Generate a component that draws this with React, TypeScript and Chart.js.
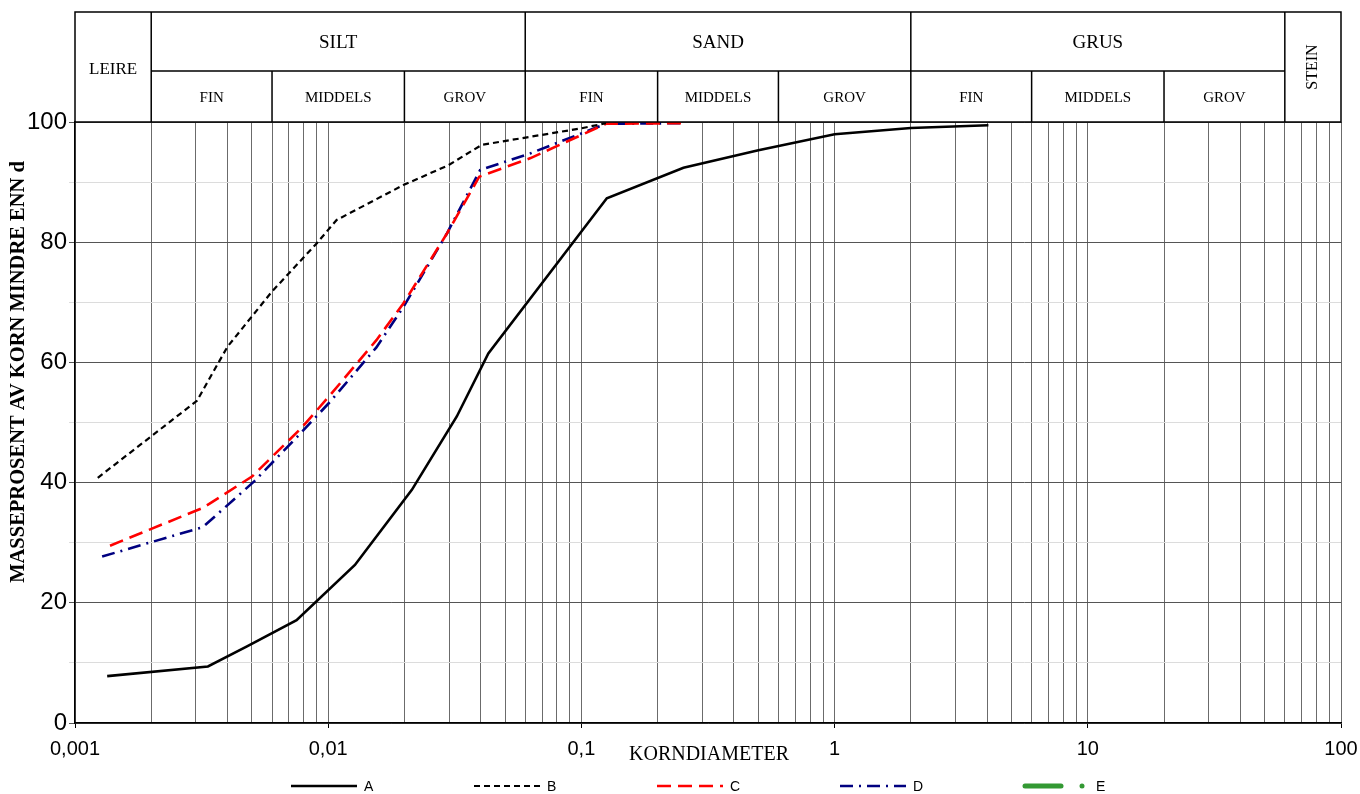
import React, { useEffect, useRef } from 'react';
import { Chart, registerables } from 'chart.js';

Chart.register(...registerables);

// ---- data (grain diameter in mm, percent passing) ----
const diamA = [0.00134, 0.00335, 0.0048, 0.0075, 0.01275, 0.0214, 0.0322, 0.0429, 0.126, 0.253, 0.5, 1.0, 2.0, 4.05];
const passA = [7.8, 9.4, 12.8, 17.1, 26.3, 38.8, 51.0, 61.5, 87.3, 92.4, 95.3, 97.95, 99.0, 99.45];

const diamB = [0.00123, 0.00303, 0.004, 0.006, 0.009, 0.0108, 0.0198, 0.0298, 0.0404, 0.1, 0.125];
const passB = [40.8, 53.6, 62.6, 71.8, 79.8, 83.7, 89.5, 92.8, 96.2, 98.95, 99.8];

const diamC = [0.001375, 0.0032, 0.005, 0.0078, 0.0102, 0.0155, 0.0198, 0.0294, 0.0395, 0.063, 0.125, 0.25];
const passC = [29.5, 35.8, 41.0, 49.0, 54.6, 63.7, 69.8, 81.4, 90.9, 94.0, 99.7, 99.8];

const diamD = [0.00128, 0.0032, 0.0051, 0.0079, 0.0102, 0.0155, 0.0198, 0.0294, 0.0398, 0.063, 0.125, 0.25];
const passD = [27.7, 32.6, 40.2, 48.5, 53.5, 62.5, 69.2, 81.4, 92.0, 94.8, 99.7, 99.8];

const diamE: number[] = [];
const passE: number[] = [];

const seriesNames = ['A', 'B', 'C', 'D', 'E'];

// ---- axis ticks ----
const xDecades = [0.001, 0.01, 0.1, 1, 10, 100];
const xDecadeLabels = ['0,001', '0,01', '0,1', '1', '10', '100'];
const xMultipliers = [1, 2, 3, 4, 5, 6, 7, 8, 9];
const yLabelStep = 20;

// ---- header classes ----
const classNames = ['LEIRE', 'SILT', 'SAND', 'GRUS', 'STEIN'];
const classBounds = [0.001, 0.002, 0.06, 2, 60, 100];
const subNames = ['FIN', 'MIDDELS', 'GROV'];
const subBounds = [
  [0.002, 0.006, 0.02, 0.06],
  [0.06, 0.2, 0.6, 2],
  [2, 6, 20, 60],
];

const xTitle = 'KORNDIAMETER';
const yTitle = 'MASSEPROSENT AV KORN MINDRE ENN d';

const toPoints = (xs: number[], ys: number[]) => xs.map((x, i) => ({ x, y: ys[i] }));
const isDecade = (v: number) => xDecades.some((d) => Math.abs(d - v) / d < 1e-6);

export default function App() {
  const ref = useRef<HTMLCanvasElement>(null);

  useEffect(() => {
    const serif = '"Liberation Serif", "Times New Roman", serif';
    const sans = '"Liberation Sans", Arial, sans-serif';

    const xTickValues: number[] = [];
    xDecades.slice(0, -1).forEach((d) => xMultipliers.forEach((m) => xTickValues.push(m * d)));
    xTickValues.push(xDecades[xDecades.length - 1]);

    const decor = {
      id: 'decor',
      afterDraw(chart: any) {
        const { ctx, chartArea, scales } = chart;
        const sx = scales.x;
        const L = chartArea.left;
        const R = chartArea.right;
        const B = chartArea.top;
        const T = 12;
        const M = 71;
        const px = (v: number) => sx.getPixelForValue(v);

        ctx.save();
        // header grid
        ctx.strokeStyle = '#000';
        ctx.lineWidth = 1.5;
        ctx.setLineDash([]);
        ctx.beginPath();
        ctx.rect(L, T, R - L, B - T);
        classBounds.slice(1, -1).forEach((v) => {
          const p = px(v);
          ctx.moveTo(p, T);
          ctx.lineTo(p, B);
        });
        ctx.moveTo(px(classBounds[1]), M);
        ctx.lineTo(px(classBounds[4]), M);
        subBounds.forEach((arr) =>
          arr.slice(1, -1).forEach((v) => {
            const p = px(v);
            ctx.moveTo(p, M);
            ctx.lineTo(p, B);
          })
        );
        ctx.stroke();

        // header texts
        ctx.fillStyle = '#000';
        ctx.textAlign = 'center';
        ctx.textBaseline = 'middle';
        classNames.forEach((name, i) => {
          const x0 = i === 0 ? L : px(classBounds[i]);
          const x1 = i === classNames.length - 1 ? R : px(classBounds[i + 1]);
          const cx = (x0 + x1) / 2;
          if (i === 0) {
            ctx.font = `17px ${serif}`;
            ctx.fillText(name, cx, (T + B) / 2 + 3);
          } else if (i === classNames.length - 1) {
            ctx.save();
            ctx.translate(cx, (T + B) / 2);
            ctx.rotate(-Math.PI / 2);
            ctx.font = `16px ${serif}`;
            ctx.fillText(name, 0, 0);
            ctx.restore();
          } else {
            ctx.font = `19px ${serif}`;
            ctx.fillText(name, cx, (T + M) / 2 + 2);
            const sb = subBounds[i - 1];
            ctx.font = `15px ${serif}`;
            subNames.forEach((s, j) => {
              const c = (px(sb[j]) + px(sb[j + 1])) / 2;
              ctx.fillText(s, c, (M + B) / 2 + 2);
            });
          }
        });

        // axis titles
        ctx.font = `bold 20.5px ${serif}`;
        ctx.save();
        ctx.translate(19, 372);
        ctx.rotate(-Math.PI / 2);
        ctx.fillText(yTitle, 0, 0);
        ctx.restore();

        ctx.font = `20px ${serif}`;
        ctx.fillText(xTitle, (L + R) / 2 + 1, 755);

        // legend
        const spacing = 183;
        const startX = (L + R) / 2 - 417;
        const ly = 786;
        chart.data.datasets.forEach((ds: any, i: number) => {
          const x0 = startX + i * spacing;
          ctx.strokeStyle = ds.borderColor;
          ctx.lineWidth = ds.borderWidth;
          ctx.setLineDash(ds.borderDash || []);
          ctx.beginPath();
          if (i === chart.data.datasets.length - 1) {
            ctx.lineCap = 'round';
            ctx.moveTo(x0 + 2, ly);
            ctx.lineTo(x0 + 38, ly);
            ctx.stroke();
            ctx.lineCap = 'butt';
            ctx.fillStyle = ds.borderColor;
            ctx.beginPath();
            ctx.arc(x0 + 59, ly, 2.5, 0, Math.PI * 2);
            ctx.fill();
          } else {
            ctx.moveTo(x0, ly);
            ctx.lineTo(x0 + 66, ly);
            ctx.stroke();
          }
          ctx.setLineDash([]);
          ctx.fillStyle = '#000';
          ctx.font = `14px ${sans}`;
          ctx.textAlign = 'left';
          ctx.fillText(ds.label, x0 + 73, ly + 1);
        });
        ctx.restore();
      },
    };

    const chart = new Chart(ref.current as HTMLCanvasElement, {
      type: 'line',
      data: {
        datasets: [
          { label: seriesNames[0], data: toPoints(diamA, passA), borderColor: '#000000', borderWidth: 2.6, pointRadius: 0, fill: false, tension: 0 },
          { label: seriesNames[1], data: toPoints(diamB, passB), borderColor: '#000000', borderWidth: 2.2, borderDash: [6, 4], pointRadius: 0, fill: false, tension: 0 },
          { label: seriesNames[2], data: toPoints(diamC, passC), borderColor: '#ff0000', borderWidth: 2.6, borderDash: [14, 7], pointRadius: 0, fill: false, tension: 0 },
          { label: seriesNames[3], data: toPoints(diamD, passD), borderColor: '#000080', borderWidth: 2.6, borderDash: [13, 6, 2, 6], pointRadius: 0, fill: false, tension: 0 },
          { label: seriesNames[4], data: toPoints(diamE, passE), borderColor: '#339933', borderWidth: 5, pointRadius: 3, fill: false, tension: 0 },
        ] as any,
      },
      options: {
        animation: false,
        responsive: true,
        maintainAspectRatio: false,
        layout: { padding: { top: 122, right: 19, left: 0, bottom: 0 } },
        plugins: { legend: { display: false }, tooltip: { enabled: false }, title: { display: false } },
        scales: {
          x: {
            type: 'logarithmic',
            min: 0.001,
            max: 100,
            afterBuildTicks: (s: any) => {
              s.ticks = xTickValues.map((v) => ({ value: v }));
            },
            afterFit: (s: any) => {
              s.height = 71;
              s.paddingRight = 0;
              s.paddingLeft = 0;
            },
            ticks: {
              autoSkip: false,
              maxRotation: 0,
              minRotation: 0,
              padding: 9,
              color: '#000',
              font: { family: sans, size: 20 },
              callback: (v: any) => {
                const i = xDecades.findIndex((d) => Math.abs(d - Number(v)) / d < 1e-6);
                return i >= 0 ? xDecadeLabels[i] : '';
              },
            },
            grid: {
              color: '#6b6b6b',
              lineWidth: 1,
              tickLength: 5,
              tickColor: (c: any) => (c.tick && isDecade(c.tick.value) ? '#000' : 'rgba(0,0,0,0)'),
            },
            border: { color: '#000', width: 1.5 },
          },
          y: {
            min: 0,
            max: 100,
            afterFit: (s: any) => {
              s.width = 75;
            },
            ticks: {
              stepSize: 10,
              padding: 2,
              color: '#000',
              font: { family: sans, size: 24 },
              callback: (v: any) => (Number(v) % yLabelStep === 0 ? String(v) : ''),
            },
            grid: {
              color: (c: any) => (c.tick && c.tick.value % yLabelStep === 0 ? '#555555' : '#dcdcdc'),
              lineWidth: 1,
              tickLength: 6,
            },
            border: { color: '#000', width: 1.5 },
          },
        },
      } as any,
      plugins: [decor],
    });

    return () => chart.destroy();
  }, []);

  return (
    <div style={{ position: 'absolute', left: 0, top: 0, width: 1360, height: 794 }}>
      <canvas ref={ref} />
    </div>
  );
}
